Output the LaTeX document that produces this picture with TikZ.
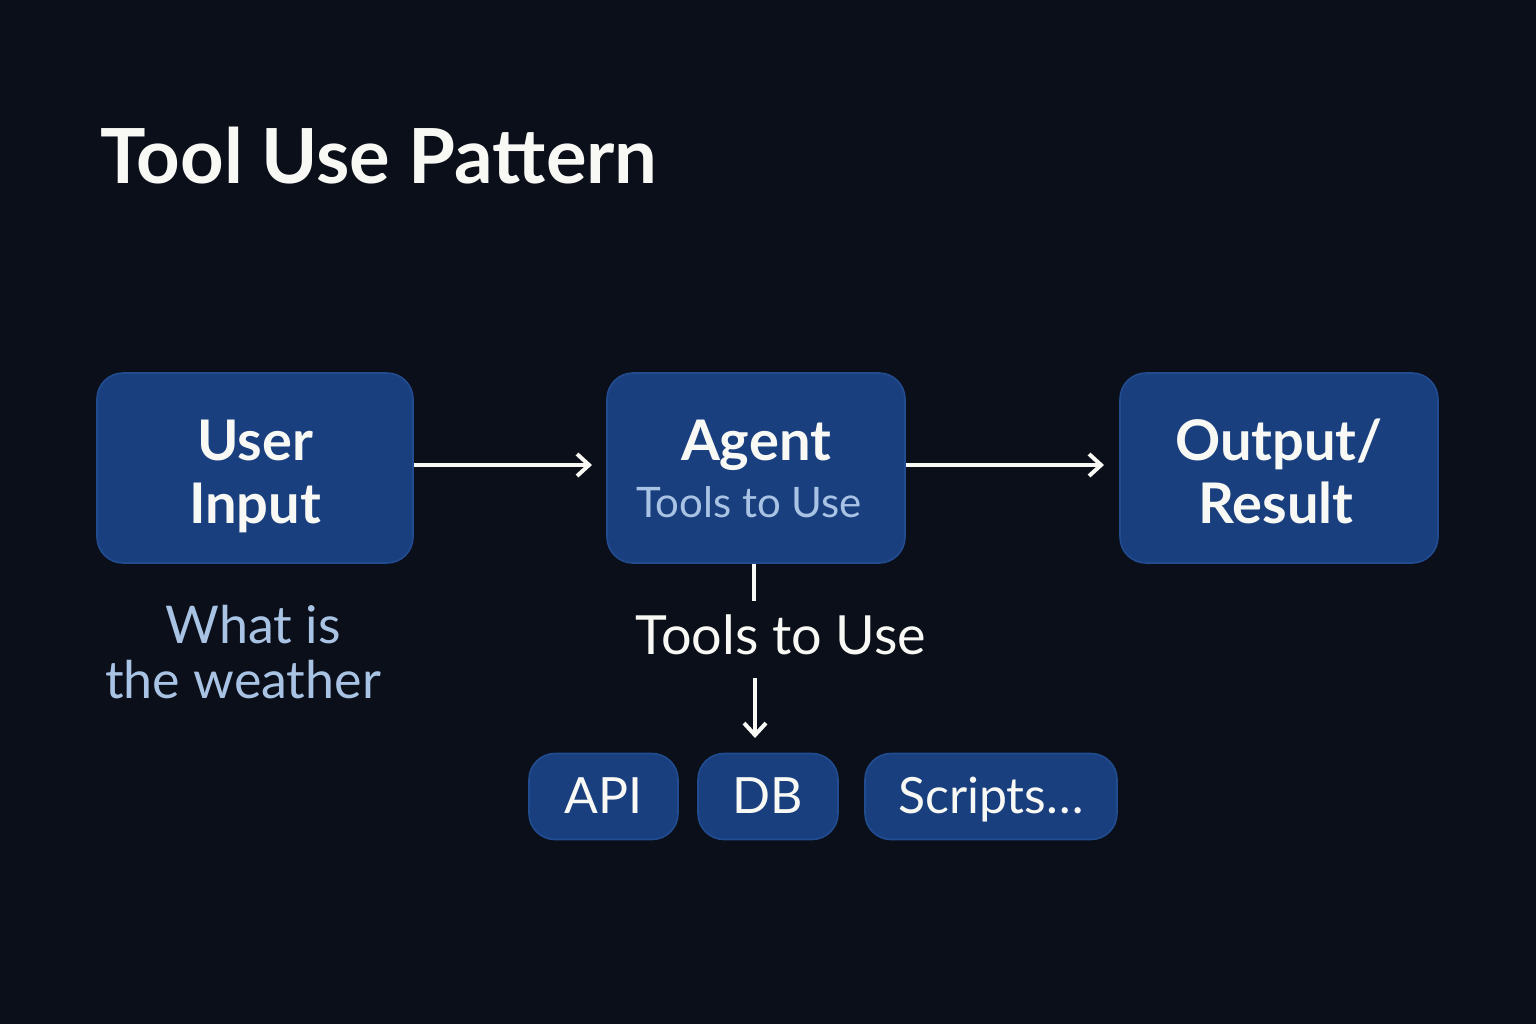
\documentclass[tikz,border=0pt]{standalone}
\usepackage{fontspec}
\setmainfont{Lato}
\usetikzlibrary{arrows.meta}
\definecolor{bg}{HTML}{0B0F1A}
\definecolor{boxfill}{HTML}{1A3F7E}
\definecolor{boxline}{HTML}{214C8F}
\definecolor{lighttext}{HTML}{A9C3E4}
\definecolor{white2}{HTML}{F8F8F4}
\begin{document}
\begin{tikzpicture}[x=0.5pt,y=-0.5pt,
  box/.style={draw=boxline, line width=0.8pt, fill=boxfill, rounded corners=13pt, inner sep=0pt, text=white2, align=center},
  smallbox/.style={box, minimum height=43pt, text height=17pt, text depth=0pt, font=\fontsize{25}{28}\selectfont},
  conn/.style={draw=white2, line width=2pt, -{Straight Barb[length=6pt,width=11pt,line width=2pt]}},
  plain/.style={draw=white2, line width=2pt}]
\fill[bg] (0,0) rectangle (1536,1024);
\useasboundingbox (0,0) rectangle (1536,1024);
\node[anchor=base west, text=white2, inner sep=0pt, font=\fontsize{38}{42}\selectfont\bfseries] (title) at (100,183) {Tool Use Pattern};
\node[box, minimum width=158pt, minimum height=95pt] (user) at (255,468) {};
\node[box, minimum width=149pt, minimum height=95pt] (agent) at (756,468) {};
\node[box, minimum width=159pt, minimum height=95pt] (out) at (1279,468) {};
\node[anchor=base, text=white2, inner sep=0pt, font=\fontsize{28}{30}\selectfont\bfseries] (userA) at (255,460) {User};
\node[anchor=base, text=white2, inner sep=0pt, font=\fontsize{28}{30}\selectfont\bfseries] (userB) at (255,523) {Input};
\node[anchor=base, text=white2, inner sep=0pt, font=\fontsize{28}{30}\selectfont\bfseries] (agentA) at (756,460) {Agent};
\node[anchor=base, text=lighttext, inner sep=0pt, font=\fontsize{21}{24}\selectfont] (agentB) at (749,517) {Tools to Use};
\node[anchor=base, text=white2, inner sep=0pt, font=\fontsize{28}{30}\selectfont\bfseries] (outA) at (1279,460) {Output/};
\node[anchor=base, text=white2, inner sep=0pt, font=\fontsize{28}{30}\selectfont\bfseries] (outB) at (1276,523) {Result};
\node[anchor=base, text=lighttext, inner sep=0pt, font=\fontsize{26}{30}\selectfont] (q1) at (253,643) {What is};
\node[anchor=base, text=lighttext, inner sep=0pt, font=\fontsize{26}{30}\selectfont] (q2) at (243,698) {the weather};
\node[anchor=base, text=white2, inner sep=0pt, font=\fontsize{27}{30}\selectfont] (tools) at (781,654) {Tools to Use};
\node[smallbox, minimum width=74.5pt] (api) at (603.5,796.5) {API};
\node[smallbox, minimum width=70pt] (db) at (768,796.5) {DB};
\node[smallbox, minimum width=126pt] (scr) at (991,796.5) {Scripts…};
\coordinate (a1e) at (592,465);
\coordinate (a2e) at (1104,465);
\draw[conn] (user.east |- a1e) -- (a1e);
\draw[conn] (agent.east |- a2e) -- (a2e);
\coordinate (v1) at (754,601);
\draw[plain] (agent.south -| v1) -- (v1);
\coordinate (v2) at (755,678);
\coordinate (v3) at (755,738);
\draw[conn] (v2) -- (v3);
\end{tikzpicture}
\end{document}
